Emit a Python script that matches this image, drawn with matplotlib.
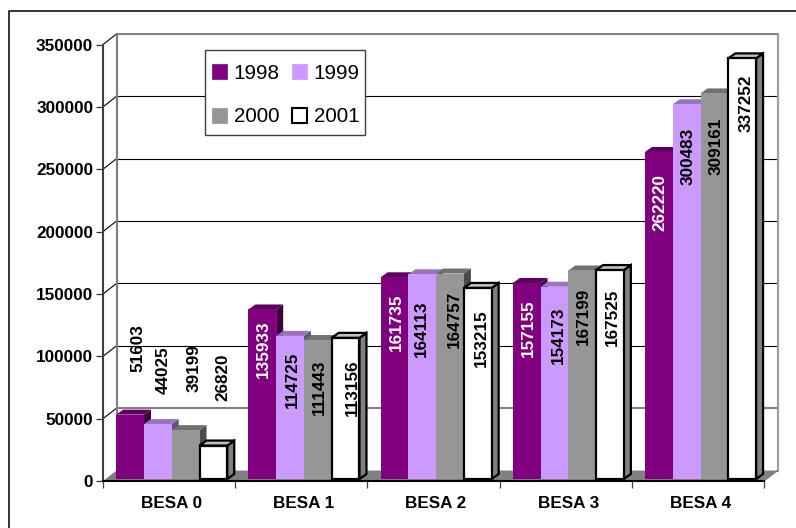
import matplotlib
matplotlib.use("Agg")
import matplotlib.pyplot as plt
from matplotlib.lines import Line2D
from matplotlib.patches import Patch, Rectangle

categories = ["BESA 0", "BESA 1", "BESA 2", "BESA 3", "BESA 4"]
years = ["1998", "1999", "2000", "2001"]
v1998 = [51603, 135933, 161735, 157155, 262220]
v1999 = [44025, 114725, 164113, 154173, 300483]
v2000 = [39199, 111443, 164757, 167199, 309161]
v2001 = [26820, 113156, 153215, 167525, 337252]
series = [v1998, v1999, v2000, v2001]
y_ticks = [0, 50000, 100000, 150000, 200000, 250000, 300000, 350000]

# ---------- LOOK ----------
W, H = 796, 528
AX_L, AX_R, AX_T, AX_B = 103, 764, 44.5, 481
FACE = ["#800080", "#CC99FF", "#969696", "#FFFFFF"]
TOP = ["#5F005F", "#9973BF", "#717171", "#BFBFBF"]
SIDE = ["#400040", "#664D80", "#4B4B4B", "#808080"]
# hand placed value labels in the original, pixel centres per series
label_px = [
    [(136, 348), (262, 349), (395, 322), (527, 328), (658, 202)],
    [(162, 370), (291, 380), (420, 329), (557, 335), (687, 156)],
    [(193, 368), (318, 387), (453, 319), (582, 316), (715, 146)],
    [(221, 377), (351, 388), (480, 338), (611, 317), (745, 103)],
]
# --------------------------

plt.rcParams["font.family"] = ["Liberation Sans", "DejaVu Sans"]

fig = plt.figure(figsize=(W / 100, H / 100), dpi=100)
ax = fig.add_axes([AX_L / W, 1 - AX_B / H, (AX_R - AX_L) / W, (AX_B - AX_T) / H])
ax.set_xlim(0, 5)
ax.set_ylim(0, 350000)
ax.patch.set_visible(False)

# pixel sizes to data units
ux = 5 / (AX_R - AX_L)
uy = 350000 / (AX_B - AX_T)
wall_dx, wall_dy = 13.5 * ux, 10.5 * uy
bar_dx, bar_dy = 7 * ux, 5 * uy
base = 2 * uy
bar_w = 0.21
gap = 0.1

# outer frame, only left and top are inside the picture
fig.add_artist(Line2D([8.5 / W, 8.5 / W, 1], [0, 1 - 10.5 / H, 1 - 10.5 / H],
                      color="black", lw=1.1))

# floor and walls
ax.fill([0, 5, 5 + wall_dx, wall_dx], [0, 0, wall_dy, wall_dy],
        color="#808080", lw=0, clip_on=False, zorder=1)
for v in y_ticks[1:]:
    col = "#808080" if v in (50000, 350000) else "black"
    lw = 1.5 if v in (50000, 350000) else 0.8
    ax.plot([wall_dx, 5 + wall_dx], [v + wall_dy, v + wall_dy], color=col, lw=lw,
            clip_on=False, zorder=1.5)
    ax.plot([0, wall_dx], [v, v + wall_dy], color="black", lw=0.8, clip_on=False, zorder=1.5)
ax.plot([wall_dx, wall_dx], [wall_dy, 350000 + wall_dy], color="#808080", lw=1.6,
        clip_on=False, zorder=1.6)
ax.plot([5 + wall_dx, 5 + wall_dx], [wall_dy, 350000 + wall_dy], color="#A0A0A0", lw=1.6,
        clip_on=False, zorder=1.6)
ax.plot([5, 5 + wall_dx], [0, wall_dy], color="#808080", lw=1, clip_on=False, zorder=1.6)

# bars, left to right so each one covers the side of the one before
z = 3
for j, vals in enumerate(series):
    lw = 1.6 if j == 3 else 0
    ec = "black" if j == 3 else "none"
    for i, v in enumerate(vals):
        x0 = i + gap + j * bar_w
        x1 = x0 + bar_w
        top = base + v
        ax.fill([x1, x1 + bar_dx, x1 + bar_dx, x1],
                [base, base + bar_dy, top + bar_dy, top],
                facecolor=SIDE[j], edgecolor=ec, lw=lw, clip_on=False, zorder=z)
        ax.fill([x0, x1, x1 + bar_dx, x0 + bar_dx],
                [top, top, top + bar_dy, top + bar_dy],
                facecolor=TOP[j], edgecolor=ec, lw=lw, clip_on=False, zorder=z)
        ax.bar(x0, v, bar_w, bottom=base, align="edge", color=FACE[j], edgecolor=ec,
               linewidth=lw, clip_on=False, zorder=z + 0.1)
        z += 0.2

# value labels, white only on the purple bars
for j, vals in enumerate(series):
    for i, v in enumerate(vals):
        px, py = label_px[j][i]
        col = "white" if j == 0 and i > 0 else "black"
        ax.text((px + 1.5 - AX_L) * ux, (AX_B - py) * uy, str(v), rotation=90, ha="center",
                va="center", fontsize=12.3, fontweight="bold", color=col, zorder=50)

# axes
for s in ("top", "right"):
    ax.spines[s].set_visible(False)
ax.spines["left"].set_color("#404040")
ax.spines["left"].set_linewidth(1.5)
ax.spines["bottom"].set_color("black")
ax.spines["bottom"].set_linewidth(1.5)
ax.spines["bottom"].set_zorder(40)
ax.set_yticks(y_ticks)
ax.set_yticklabels([str(v) for v in y_ticks], fontsize=12.3, fontweight="bold")
ax.set_xticks(range(6))
ax.set_xticklabels([])
ax.tick_params(axis="y", length=5, width=0.9, color="#303030", pad=2)
ax.tick_params(axis="x", length=5, width=0.9, color="#404040")
for i, name in enumerate(categories):
    ax.text(i + 0.5 + 2.5 * ux, -23 * uy, name, ha="center", va="center",
            fontsize=12.3, fontweight="bold")

# legend, box drawn on its own because the original padding is uneven
fig.add_artist(Rectangle((205 / W, 1 - 135 / H), 159.7 / W, 85 / H, facecolor="white",
                         edgecolor="#404040", lw=1, transform=fig.transFigure, zorder=5))
handles = [Patch(facecolor=FACE[j], edgecolor="black" if j == 3 else FACE[j],
                 linewidth=1.5 if j == 3 else 0.5, label=years[j]) for j in range(4)]
leg = fig.legend(handles=[handles[0], handles[2], handles[1], handles[3]], ncol=2,
                 loc="upper left", bbox_to_anchor=(212 / W, 1 - 64 / H),
                 bbox_transform=fig.transFigure, fontsize=14.9, frameon=False,
                 handlelength=0.72, handleheight=0.72, handletextpad=0.32, columnspacing=0.62,
                 labelspacing=1.18, borderpad=0, borderaxespad=0)
leg.set_zorder(6)

fig.savefig("out.png", dpi=100)
